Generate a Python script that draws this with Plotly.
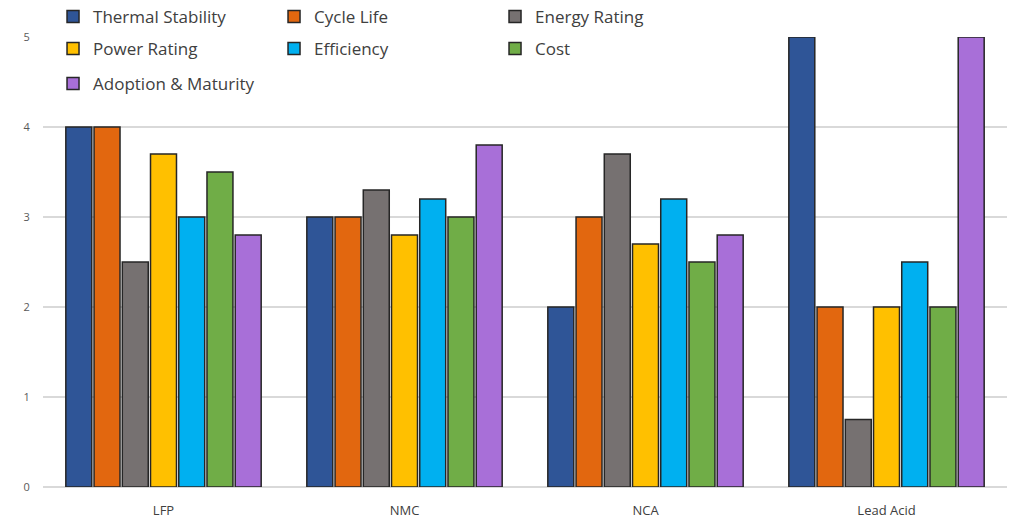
import plotly.graph_objects as go

# Battery chemistries compared
chemistries = ["LFP", "NMC", "NCA", "Lead Acid"]

# Scores per attribute (0-5 scale)
thermal_stability = [4, 3, 2, 5]
cycle_life = [4, 3, 3, 2]
energy_rating = [2.5, 3.3, 3.7, 0.75]
power_rating = [3.7, 2.8, 2.7, 2]
efficiency = [3, 3.2, 3.2, 2.5]
cost = [3.5, 3, 2.5, 2]
adoption_maturity = [2.8, 3.8, 2.8, 5]

y_ticks = [0, 1, 2, 3, 4, 5]

# (name, values, colour, legend row)
series = [
    ("Thermal Stability", thermal_stability, "#2F5597", "legend"),
    ("Cycle Life", cycle_life, "#E2670F", "legend"),
    ("Energy Rating", energy_rating, "#767171", "legend"),
    ("Power Rating", power_rating, "#FFC000", "legend2"),
    ("Efficiency", efficiency, "#00B0F0", "legend2"),
    ("Cost", cost, "#70AD47", "legend2"),
    ("Adoption & Maturity", adoption_maturity, "#A86FD8", "legend3"),
]

fig = go.Figure()
for name, vals, color, leg in series:
    fig.add_trace(go.Bar(
        x=chemistries, y=vals, name=name, legend=leg,
        marker=dict(color=color, line=dict(color="#262626", width=1.5)),
    ))


def legend_row(y):
    return dict(
        orientation="h", x=0.0104, xanchor="left",
        y=y, yanchor="middle", yref="container",
        font=dict(size=17, color="#404040"),
        entrywidth=176, entrywidthmode="pixels",
        traceorder="normal", bgcolor="rgba(0,0,0,0)",
        itemwidth=30,
    )


fig.update_layout(
    width=1015, height=521,
    margin=dict(l=43, r=8, t=37, b=34, autoexpand=False),
    paper_bgcolor="white", plot_bgcolor="white",
    barmode="group", bargap=0.18, bargroupgap=0.08,
    font=dict(family="Open Sans, Noto Sans, sans-serif", color="#404040"),
    showlegend=True,
    legend=legend_row(1 - 17 / 521),
    legend2=legend_row(1 - 49 / 521),
    legend3=legend_row(1 - 84 / 521),
    xaxis=dict(
        showgrid=False, showline=False, zeroline=False,
        tickfont=dict(size=13, color="#404040"),
        ticks="outside", ticklen=11, tickcolor="rgba(0,0,0,0)",
    ),
    yaxis=dict(
        range=[0, 5], tickvals=y_ticks,
        showgrid=True, gridcolor="#D9D9D9", gridwidth=2,
        zeroline=True, zerolinecolor="#D9D9D9", zerolinewidth=2,
        showline=False,
        tickfont=dict(size=11, color="#595959"),
        ticks="outside", ticklen=10, tickcolor="rgba(0,0,0,0)",
    ),
)

fig.write_html("out.html")
